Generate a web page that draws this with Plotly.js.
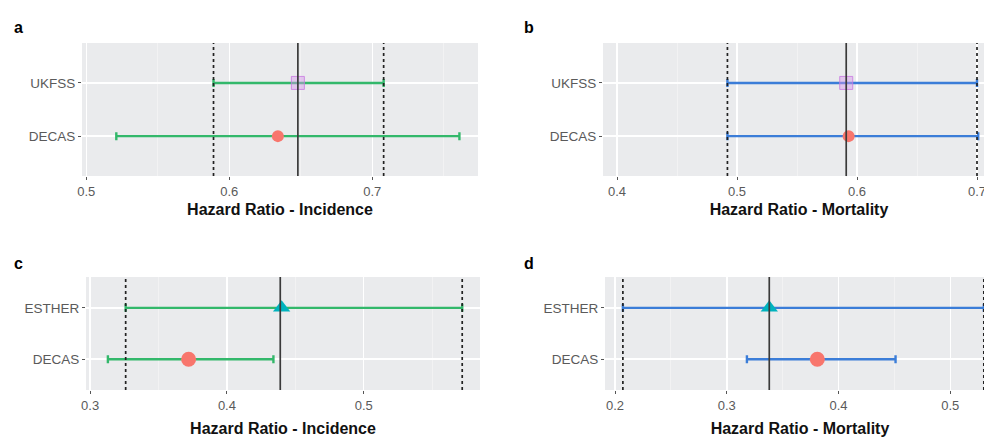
<!DOCTYPE html>
<html>
<head>
<meta charset="utf-8">
<script src="https://cdn.plot.ly/plotly-3.0.1.min.js"></script>
<style>
html,body{margin:0;padding:0;overflow:hidden;background:#fff;}
#chart{width:1000px;height:439px;}
</style>
</head>
<body>
<div id="chart"></div>
<script>
// ---- data ----
// Panel a: Hazard Ratio - Incidence
const aStudies = ['UKFSS', 'DECAS'];
const aHR = [0.648, 0.634];
const aLo = [0.589, 0.521];
const aHi = [0.708, 0.761];
const aRef = [0.648, 0.589, 0.708]; // pooled, lower, upper

// Panel b: Hazard Ratio - Mortality
const bStudies = ['UKFSS', 'DECAS'];
const bHR = [0.591, 0.593];
const bLo = [0.492, 0.492];
const bHi = [0.700, 0.701];
const bRef = [0.591, 0.492, 0.700];

// Panel c: Hazard Ratio - Incidence
const cStudies = ['ESTHER', 'DECAS'];
const cHR = [0.440, 0.372];
const cLo = [0.326, 0.313];
const cHi = [0.572, 0.434];
const cRef = [0.439, 0.326, 0.572];

// Panel d: Hazard Ratio - Mortality
const dStudies = ['ESTHER', 'DECAS'];
const dHR = [0.338, 0.381];
const dLo = [0.207, 0.318];
const dHi = [0.530, 0.451];
const dRef = [0.338, 0.207, 0.530];

const panelLetters = ['a', 'b', 'c', 'd'];
const xTitles = ['Hazard Ratio - Incidence', 'Hazard Ratio - Mortality',
                 'Hazard Ratio - Incidence', 'Hazard Ratio - Mortality'];

// ---- styling ----
const GREEN = '#33b86b';
const BLUE = '#3b7dd8';
const studyMarker = {
  'UKFSS': {symbol: 'square', size: 13, color: 'rgba(214,150,235,0.45)', line: {color: 'rgba(200,120,225,0.8)', width: 1}},
  'DECAS': {symbol: 'circle', size: 12, color: '#F8766D', line: {width: 0}},
  'ESTHER': {symbol: 'triangle-up', size: 15, color: '#00B3BE', line: {width: 0}}
};

const panels = [
  {s: aStudies, hr: aHR, lo: aLo, hi: aHi, ref: aRef, col: GREEN, xd: [0.082, 0.478], yd: [0.599, 0.902], xr: [0.497, 0.774], yr: [-0.75, 1.75], dt: 0.1, t0: 0.5, big: false, so: 6},
  {s: bStudies, hr: bHR, lo: bLo, hi: bHi, ref: bRef, col: BLUE, xd: [0.603, 0.995], xr: [0.3883, 0.715], yd: [0.599, 0.902], yr: [-0.75, 1.75], dt: 0.1, t0: 0.4, big: false, so: 6},
  {s: cStudies, hr: cHR, lo: cLo, hi: cHi, ref: cRef, col: GREEN, xd: [0.086, 0.480], xr: [0.297, 0.585], yd: [0.1116, 0.369], yr: [-0.6, 1.6], dt: 0.1, t0: 0.4, big: true, so: 11},
  {s: dStudies, hr: dHR, lo: dLo, hi: dHi, ref: dRef, col: BLUE, xd: [0.605, 0.995], xr: [0.191, 0.540], yd: [0.1116, 0.369], yr: [-0.6, 1.6], dt: 0.1, t0: 0.2, big: true, so: 11}
];

const traces = [];
const layout = {
  width: 1000, height: 439,
  margin: {l: 0, r: 0, t: 0, b: 0},
  paper_bgcolor: '#ffffff',
  plot_bgcolor: '#EAEBED',
  showlegend: false,
  font: {family: 'Liberation Sans, Arial, sans-serif', color: '#4D4D4D', size: 13},
  shapes: [],
  annotations: []
};

const letterPos = [[12, 27], [522, 27], [12, 263], [522, 263]];

panels.forEach((p, i) => {
  const n = i + 1;
  const xa = n === 1 ? 'x' : 'x' + n;
  const ya = n === 1 ? 'y' : 'y' + n;
  const xk = n === 1 ? 'xaxis' : 'xaxis' + n;
  const yk = n === 1 ? 'yaxis' : 'yaxis' + n;

  p.s.forEach((st, j) => {
    const m = studyMarker[st];
    const sz = p.big && st === 'DECAS' ? 15 : m.size;
    traces.push({
      type: 'scatter', mode: 'markers',
      x: [p.hr[j]], y: [st],
      xaxis: xa, yaxis: ya,
      cliponaxis: false,
      marker: {symbol: m.symbol, size: sz, color: m.color, line: m.line},
      error_x: {type: 'data', symmetric: false,
                array: [p.hi[j] - p.hr[j]], arrayminus: [p.hr[j] - p.lo[j]],
                color: p.col, thickness: 2.4, width: 4},
      hoverinfo: 'x+y'
    });
  });

  layout[xk] = {
    domain: p.xd, range: p.xr, anchor: ya,
    tick0: p.t0, dtick: p.dt, tickformat: '.1f',
    ticks: 'outside', ticklen: 3, tickwidth: 1, tickcolor: '#555',
    tickfont: {size: 13, color: '#5a5a5a'},
    showgrid: true, gridcolor: '#ffffff', gridwidth: 1.4,
    minor: {dtick: p.dt / 2, tick0: p.t0 + p.dt / 2, showgrid: true, gridcolor: '#F5F5F5', gridwidth: 0.7, ticks: ''},
    zeroline: false, showline: false,
    title: {text: '<b>' + xTitles[i] + '</b>', font: {size: 16, color: '#111', family: 'Liberation Sans, Arial, sans-serif'}, standoff: p.so}
  };
  layout[yk] = {
    domain: p.yd, range: p.yr, anchor: xa,
    type: 'category', categoryorder: 'array', categoryarray: p.s.slice().reverse(),
    ticks: 'outside', ticklen: 3, tickwidth: 1, tickcolor: '#555',
    tickfont: {size: 13.5, color: '#5a5a5a'},
    showgrid: true, gridcolor: '#ffffff', gridwidth: 1.4,
    zeroline: false, showline: false
  };

  p.ref.forEach((v, k) => {
    layout.shapes.push({
      type: 'line', xref: xa, yref: ya + ' domain',
      x0: v, x1: v, y0: 0, y1: 1, layer: 'above',
      line: k === 0 ? {color: '#3a3a3a', width: 1.7} : {color: '#222', width: 1.7, dash: '3px,3px'}
    });
  });

  layout.annotations.push({
    text: '<b>' + panelLetters[i] + '</b>', xref: 'paper', yref: 'paper',
    x: letterPos[i][0] / 1000, y: 1 - letterPos[i][1] / 439,
    xanchor: 'left', yanchor: 'middle', showarrow: false,
    font: {size: 16, color: '#000', family: 'Liberation Sans, Arial, sans-serif'}
  });
});

Plotly.newPlot('chart', traces, layout, {displayModeBar: false, staticPlot: true});
</script>
</body>
</html>
